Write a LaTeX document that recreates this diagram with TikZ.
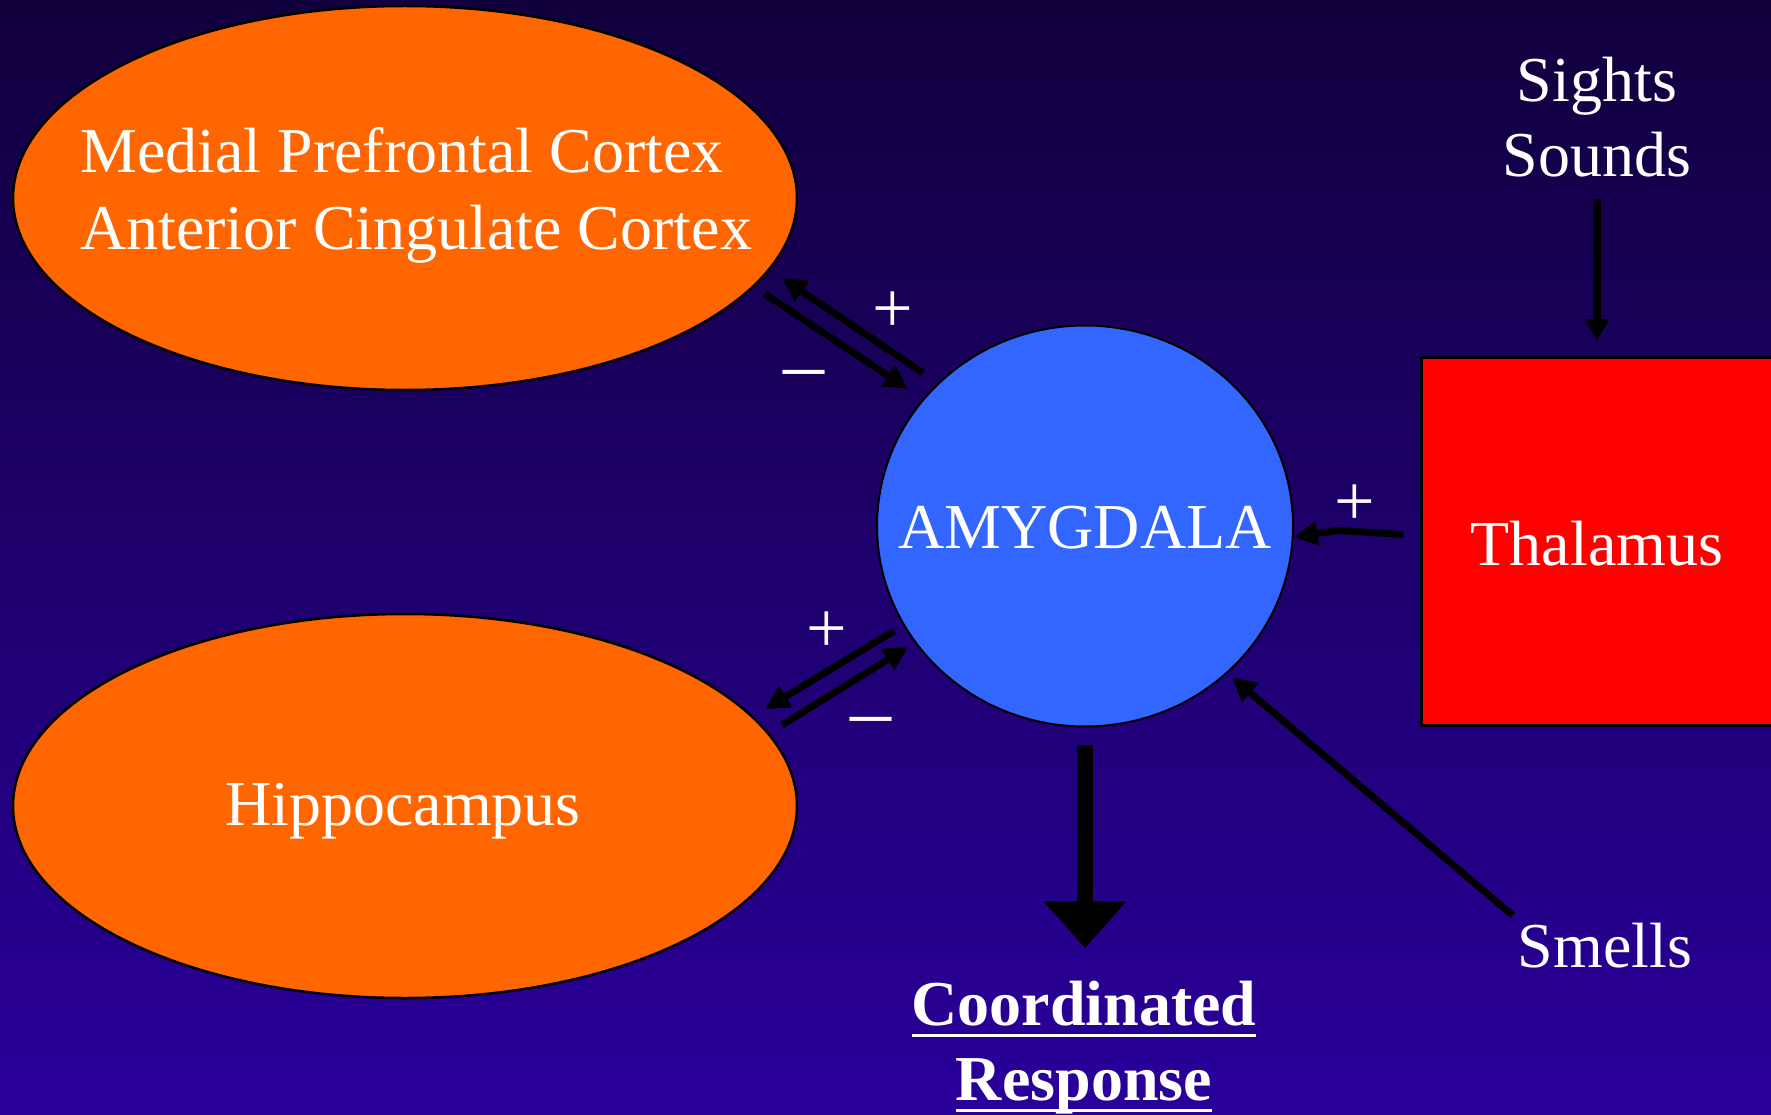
\documentclass[tikz,border=0pt]{standalone}
\usepackage{fontspec}
\setmainfont{Liberation Serif}
\usetikzlibrary{arrows.meta,shapes.geometric}
\definecolor{bgtop}{RGB}{17,0,61}
\definecolor{bgbot}{RGB}{42,0,155}
\definecolor{orng}{RGB}{255,102,0}
\definecolor{amyblue}{RGB}{51,102,255}
\definecolor{thred}{RGB}{255,0,0}
\newcommand\myul[1]{\setbox0\hbox{#1}\rlap{\rule[-11pt]{\wd0}{3pt}}\box0}
\begin{document}
\begin{tikzpicture}[x=1pt,y=-1pt,
  lbl/.style={text=white,font=\fontsize{64}{75}\selectfont,inner sep=0pt},
  region/.style={ellipse,draw=black,line width=2.5pt,fill=orng,minimum width=784pt,minimum height=384pt,inner sep=0pt},
  arr/.style={draw=black,line width=7pt,-{Triangle[length=24pt,width=24pt]}},
  bigarr/.style={draw=black,line width=16pt,-{Triangle[length=47pt,width=80pt]}},
  plussign/.style={text=white,inner sep=0pt,font=\fontsize{72}{72}\selectfont},
  minussign/.style={text=white,inner sep=0pt,font=\fontsize{82}{82}\selectfont}]
\path[use as bounding box] (0,0) rectangle (1771,1115);
\shade[top color=bgtop,bottom color=bgbot] (0,0) rectangle (1771,1115);
\clip (0,0) rectangle (1771,1115);

% regions
\node[region] (mpfc) at (405,198) {};
\node[lbl,align=left,font=\fontsize{64}{77}\selectfont,anchor=west] (mpfctext) at (80,195)
  {Medial Prefrontal Cortex\\Anterior Cingulate Cortex};
\node[region] (hippo) at (405,806) {};
\node[lbl,anchor=base] (hippotext) at (403,825) {Hippocampus};

\node[ellipse,draw=black,line width=2pt,fill=amyblue,minimum width=416pt,minimum height=401pt,inner sep=0pt] (amyg) at (1085,526) {};
\node[lbl,anchor=base] (amygtext) at (1085,548) {AMYGDALA};

\node[rectangle,draw=black,line width=3pt,fill=thred,minimum width=380pt,minimum height=368pt,anchor=north west] (thal) at (1419.5,356) {};
\node[lbl,anchor=base] (thaltext) at (1597,565) {Thalamus};

\node[lbl,align=center] (senses) at (1597,117.5) {Sights\\Sounds};
\node[lbl,anchor=base] (smells) at (1605,967) {Smells};
\node[lbl,align=center,font=\bfseries\fontsize{64}{75}\selectfont] (resp) at (1084,1048)
  {\myul{Coordinated}\\\myul{Response}};

% connectors
\draw[arr,line width=8pt,-{Triangle[length=22pt,width=23pt]},shorten <=21pt,shorten >=15pt]
  (senses.south) -- (senses.south |- thal.north);
\draw[arr,-{Triangle[length=24pt,width=23pt]}] ([xshift=-16pt,yshift=7pt]thal.west) -- ++(-66,-4) -- (amyg.-3.5);
\draw[arr,shorten >=6pt] ([shift={(-5,-7)}]smells.north west) -- (amyg.-46.3);
\draw[bigarr,shorten <=17pt,shorten >=33pt] (amyg.south) -- (amyg.south |- resp.north);

% mpfc <-> amygdala
\coordinate (ma1) at (923,373);
\coordinate (ma2) at (782,278);
\coordinate (am1) at (765,294);
\coordinate (am2) at (908,389);
\draw[arr] (ma1) -- (ma2);
\draw[arr] (am1) -- (am2);
% hippocampus <-> amygdala
\coordinate (ha1) at (894,631);
\coordinate (ha2) at (765,709);
\coordinate (ah1) at (782,725);
\coordinate (ah2) at (908,647);
\draw[arr] (ha1) -- (ha2);
\draw[arr] (ah1) -- (ah2);

% signs
\node[plussign] (p1) at (893,312) {+};
\node[minussign] (m1) at (804,381) {–};
\node[plussign] (p2) at (827,632) {+};
\node[minussign] (m2) at (871,728) {–};
\node[plussign] (p3) at (1355,505) {+};
\end{tikzpicture}
\end{document}
